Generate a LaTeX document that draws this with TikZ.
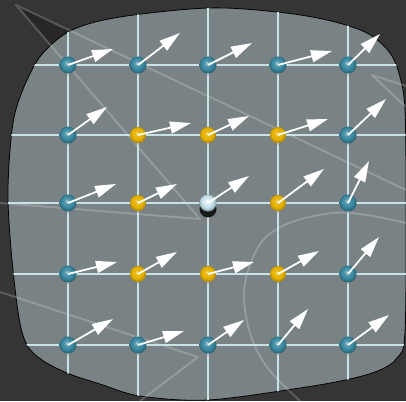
\documentclass[tikz,border=0pt]{standalone}
\usetikzlibrary{arrows.meta,shadows}

\definecolor{bgdark}{RGB}{53,53,53}
\definecolor{wedgedark}{RGB}{41,39,37}
\definecolor{blobgrey}{RGB}{121,130,132}
\definecolor{gridblue}{RGB}{200,226,230}
\definecolor{dotteal}{RGB}{56,136,160}
\definecolor{dotgold}{RGB}{230,178,0}
\definecolor{dotpale}{RGB}{196,226,236}

% sphere shadings, highlight up and to the left
\pgfdeclareradialshading{tealball}{\pgfpoint{-4bp}{6bp}}{%
  color(0bp)=(dotteal!40!white); color(7bp)=(dotteal!85!white);
  color(17bp)=(dotteal); color(27bp)=(dotteal!70!black);
  color(50bp)=(dotteal!70!black)}
\pgfdeclareradialshading{goldball}{\pgfpoint{-4bp}{6bp}}{%
  color(0bp)=(dotgold!45!white); color(7bp)=(dotgold!90!white);
  color(17bp)=(dotgold); color(27bp)=(dotgold!75!black);
  color(50bp)=(dotgold!75!black)}
\pgfdeclareradialshading{paleball}{\pgfpoint{-4bp}{6bp}}{%
  color(0bp)=(white); color(8bp)=(dotpale!70!white);
  color(17bp)=(dotpale); color(27bp)=(dotpale!65!black);
  color(50bp)=(dotpale!65!black)}

% outline of the deformed sheet, in pixel units
\newcommand{\blobpath}{plot[smooth cycle, tension=0.55] coordinates {
  (120,17) (208,8) (277,12) (327,20) (367,33) (390,53) (400,77) (405,110)
  (406,200) (405,332) (397,358) (380,370) (350,379) (300,388) (208,400)
  (140,396) (100,384) (67,373) (42,360) (27,345) (19,318) (12,260) (8,200)
  (10,150) (15,113) (27,80) (43,53) (72,30)}}

\begin{document}
\begin{tikzpicture}[x=1pt, y=-1pt,
  dot/.style={circle, minimum size=17pt, inner sep=0pt,
              drop shadow={shadow xshift=0pt, shadow yshift=-2pt, opacity=0.3}},
  rim/.style={dot, shading=tealball},
  ring/.style={dot, shading=goldball, minimum size=16pt},
  hub/.style={dot, shading=paleball,
              drop shadow={shadow xshift=0pt, shadow yshift=-6pt, opacity=1,
                           fill=black!90}},
  vec/.style={draw=white, line width=1.8pt, -{Triangle[length=21pt, width=12pt]}},
  gridline/.style={draw=gridblue, line width=1.6pt},
  chalk/.style={draw=white, opacity=0.2, line width=2pt, line join=round}]

  \useasboundingbox (0,0) rectangle (406,401);
  \fill[bgdark] (0,0) rectangle (406,401);
  \fill[wedgedark] (16,5) -- (406,190) -- (200,219) -- cycle;

  % sheet
  \fill[blobgrey] \blobpath;
  \draw[black, line width=0.8pt] \blobpath;

  % chalk strokes
  \draw[chalk] (0,203) -- (200,219) -- (16,5) -- (406,190);
  \draw[chalk] (406,86) -- (372,75) -- (406,107);
  \draw[chalk] (0,292) -- (198,357) -- (140,401);
  \draw[chalk] plot[smooth, tension=0.6] coordinates {(406,223) (367,215)
    (333,213) (292,222) (265,238) (250,265) (244,295) (250,333) (267,367)
    (300,401)};

  % grid
  \begin{scope}
    \clip \blobpath;
    \foreach \x in {68,138,208,278,348}
      \draw[gridline] (\x,0) -- (\x,401);
    \foreach \y in {65,135,203,274,345}
      \draw[gridline] (0,\y) -- (406,\y);
  \end{scope}

  \node[rim]  (d11) at (68,65)   {};
  \node[rim]  (d12) at (138,65)  {};
  \node[rim]  (d13) at (208,65)  {};
  \node[rim]  (d14) at (278,65)  {};
  \node[rim]  (d15) at (348,65)  {};
  \node[rim]  (d21) at (68,135)  {};
  \node[ring] (d22) at (138,135) {};
  \node[ring] (d23) at (208,135) {};
  \node[ring] (d24) at (278,135) {};
  \node[rim]  (d25) at (348,135) {};
  \node[rim]  (d31) at (68,203)  {};
  \node[ring] (d32) at (138,203) {};
  \node[hub]  (d33) at (208,203) {};
  \node[ring] (d34) at (278,203) {};
  \node[rim]  (d35) at (348,203) {};
  \node[rim]  (d41) at (68,274)  {};
  \node[ring] (d42) at (138,274) {};
  \node[ring] (d43) at (208,274) {};
  \node[ring] (d44) at (278,274) {};
  \node[rim]  (d45) at (348,274) {};
  \node[rim]  (d51) at (68,345)  {};
  \node[rim]  (d52) at (138,345) {};
  \node[rim]  (d53) at (208,345) {};
  \node[rim]  (d54) at (278,345) {};
  \node[rim]  (d55) at (348,345) {};

  \coordinate (v11) at (113,49);  \coordinate (v12) at (180,33);
  \coordinate (v13) at (252,43);  \coordinate (v14) at (332,51);
  \coordinate (v15) at (380,34);
  \coordinate (v21) at (107,107); \coordinate (v22) at (191,123);
  \coordinate (v23) at (249,116); \coordinate (v24) at (328,119);
  \coordinate (v25) at (386,99);
  \coordinate (v31) at (116,184); \coordinate (v32) at (177,184);
  \coordinate (v33) at (249,176); \coordinate (v34) at (324,169);
  \coordinate (v35) at (369,161);
  \coordinate (v41) at (117,262); \coordinate (v42) at (177,252);
  \coordinate (v43) at (254,262); \coordinate (v44) at (319,251);
  \coordinate (v45) at (379,237);
  \coordinate (v51) at (113,319); \coordinate (v52) at (184,331);
  \coordinate (v53) at (244,320); \coordinate (v54) at (308,309);
  \coordinate (v55) at (389,315);

  \draw[vec] (d11.center) -- (v11);
  \draw[vec] (d12.center) -- (v12);
  \draw[vec] (d13.center) -- (v13);
  \draw[vec] (d14.center) -- (v14);
  \draw[vec] (d15.center) -- (v15);
  \draw[vec] (d21.center) -- (v21);
  \draw[vec] (d22.center) -- (v22);
  \draw[vec] (d23.center) -- (v23);
  \draw[vec] (d24.center) -- (v24);
  \draw[vec] (d25.center) -- (v25);
  \draw[vec] (d31.center) -- (v31);
  \draw[vec] (d32.center) -- (v32);
  \draw[vec] (d33.center) -- (v33);
  \draw[vec] (d34.center) -- (v34);
  \draw[vec] (d35.center) -- (v35);
  \draw[vec] (d41.center) -- (v41);
  \draw[vec] (d42.center) -- (v42);
  \draw[vec] (d43.center) -- (v43);
  \draw[vec] (d44.center) -- (v44);
  \draw[vec] (d45.center) -- (v45);
  \draw[vec] (d51.center) -- (v51);
  \draw[vec] (d52.center) -- (v52);
  \draw[vec] (d53.center) -- (v53);
  \draw[vec] (d54.center) -- (v54);
  \draw[vec] (d55.center) -- (v55);

\end{tikzpicture}
\end{document}
